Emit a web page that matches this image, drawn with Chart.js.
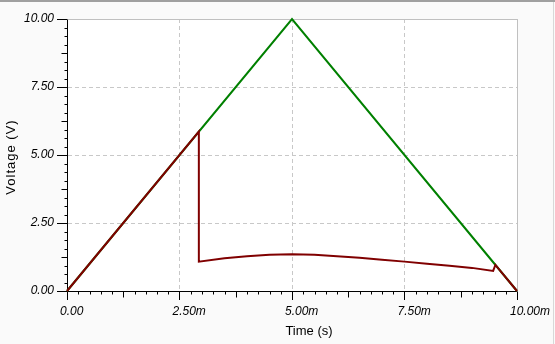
<!DOCTYPE html>
<html>
<head>
<meta charset="utf-8">
<script src="https://cdn.jsdelivr.net/npm/chart.js@4/dist/chart.umd.min.js"></script>
<style>
html,body{margin:0;padding:0;background:#fafafa;}
#c{display:block;}
</style>
</head>
<body>
<canvas id="c" width="555" height="344"></canvas>
<script>
// Data (time in ms, voltage in V)
const greenTime = [0, 5, 10];
const greenVolt = [0, 10, 0];
const redTime = [0, 2.93, 2.93, 3.5, 4, 4.5, 5, 5.5, 6, 6.5, 7, 7.5, 8, 8.5, 9, 9.47, 9.52, 10];
const redVolt = [0, 5.86, 1.08, 1.2, 1.28, 1.33, 1.35, 1.33, 1.28, 1.22, 1.15, 1.08, 1.0, 0.93, 0.85, 0.74, 0.96, 0];
const xTickValues = [0, 2.5, 5, 7.5, 10];
const yTickValues = [0, 2.5, 5, 7.5, 10];
const xTitle = 'Time (s)';
const yTitle = 'Voltage (V)';

const toPts = (xs, ys) => xs.map((x, i) => ({x: x, y: ys[i]}));

const bgPlugin = {
  id: 'bg',
  beforeDraw(chart) {
    const ctx = chart.ctx, a = chart.chartArea;
    ctx.save();
    ctx.fillStyle = '#fafafa';
    ctx.fillRect(0, 0, chart.width, chart.height);
    ctx.fillStyle = '#ffffff';
    ctx.fillRect(a.left, a.top, a.right - a.left, a.bottom - a.top);
    ctx.restore();
  }
};

const decoPlugin = {
  id: 'deco',
  beforeDatasetsDraw(chart) {
    const ctx = chart.ctx, a = chart.chartArea;
    const xs = chart.scales.x, ys = chart.scales.y;
    ctx.save();
    // solid top/right frame
    ctx.strokeStyle = '#c0c0c0';
    ctx.lineWidth = 1;
    ctx.beginPath();
    ctx.moveTo(Math.round(a.left) + 0.5, Math.round(a.top) + 0.5);
    ctx.lineTo(Math.round(a.right) + 0.5, Math.round(a.top) + 0.5);
    ctx.lineTo(Math.round(a.right) + 0.5, Math.round(a.bottom) + 0.5);
    ctx.stroke();
    // minor ticks
    ctx.strokeStyle = '#000';
    ctx.beginPath();
    const yb = Math.round(a.bottom) + 0.5;
    for (let i = 0; i <= 40; i++) {
      if (i % 10 === 0) continue;
      const len = (i % 5 === 0) ? 6 : 3;
      const px = Math.round(xs.getPixelForValue(i * 0.25)) + 0.5;
      ctx.moveTo(px, yb);
      ctx.lineTo(px, yb + len);
    }
    const xl = Math.round(a.left) + 0.5;
    for (let i = 0; i <= 32; i++) {
      if (i % 8 === 0) continue;
      const len = (i % 4 === 0) ? 6 : 3;
      const py = Math.round(ys.getPixelForValue(i * 0.3125)) + 0.5;
      ctx.moveTo(xl, py);
      ctx.lineTo(xl - len, py);
    }
    ctx.stroke();
    ctx.restore();
  },
  afterDraw(chart) {
    const ctx = chart.ctx;
    ctx.save();
    // window frame lines
    ctx.fillStyle = '#a0a0a0';
    ctx.fillRect(0, 0, chart.width, 2);
    ctx.fillStyle = '#d8d8d8';
    ctx.fillRect(553, 2, 1, chart.height - 2);
    // axis titles
    ctx.fillStyle = '#000';
    ctx.font = '13px "Liberation Sans", Arial, sans-serif';
    ctx.textAlign = 'center';
    ctx.textBaseline = 'middle';
    ctx.fillText(xTitle, 309, 331);
    ctx.translate(11, 157);
    ctx.rotate(-Math.PI / 2);
    try { ctx.letterSpacing = '1px'; } catch (e) {}
    ctx.fillText(yTitle, 0, 0);
    ctx.restore();
  }
};

new Chart(document.getElementById('c'), {
  type: 'line',
  data: {
    datasets: [
      {
        label: 'V(out)',
        data: toPts(redTime, redVolt),
        borderColor: '#800000',
        borderWidth: 2,
        pointRadius: 0,
        tension: 0,
        clip: false
      },
      {
        label: 'V(in)',
        data: toPts(greenTime, greenVolt),
        borderColor: '#008000',
        borderWidth: 2,
        pointRadius: 0,
        tension: 0,
        clip: false
      }
    ]
  },
  options: {
    responsive: false,
    animation: false,
    devicePixelRatio: 1,
    layout: {padding: {top: 19, right: 38, left: 0, bottom: 0}},
    plugins: {legend: {display: false}, tooltip: {enabled: false}},
    scales: {
      x: {
        type: 'linear',
        min: 0, max: 10,
        afterBuildTicks(s) { s.ticks = xTickValues.map(v => ({value: v})); },
        afterFit(s) { s.height = 53; s.paddingLeft = 0; s.paddingRight = 0; },
        ticks: {
          callback: v => v === 0 ? '0.00' : v.toFixed(2) + 'm',
          color: '#000',
          font: {family: '"Liberation Sans", Arial, sans-serif', size: 12, style: 'italic'},
          align: 'start',
          labelOffset: -7,
          padding: 4,
          maxRotation: 0,
          autoSkip: false
        },
        grid: {color: '#c8c8c8', tickColor: '#000', tickLength: 9, tickBorderDash: []},
        border: {display: true, color: '#000', width: 1, dash: [4, 3]}
      },
      y: {
        type: 'linear',
        min: 0, max: 10,
        afterBuildTicks(s) { s.ticks = yTickValues.map(v => ({value: v})); },
        afterFit(s) { s.width = 67; s.paddingTop = 0; s.paddingBottom = 0; },
        ticks: {
          callback: v => v.toFixed(2),
          color: '#000',
          font: {family: '"Liberation Sans", Arial, sans-serif', size: 12, style: 'italic'},
          padding: 3,
          autoSkip: false
        },
        grid: {color: '#c8c8c8', tickColor: '#000', tickLength: 10, tickBorderDash: []},
        border: {display: true, color: '#000', width: 1, dash: [4, 3]}
      }
    }
  },
  plugins: [bgPlugin, decoPlugin]
});
</script>
</body>
</html>
